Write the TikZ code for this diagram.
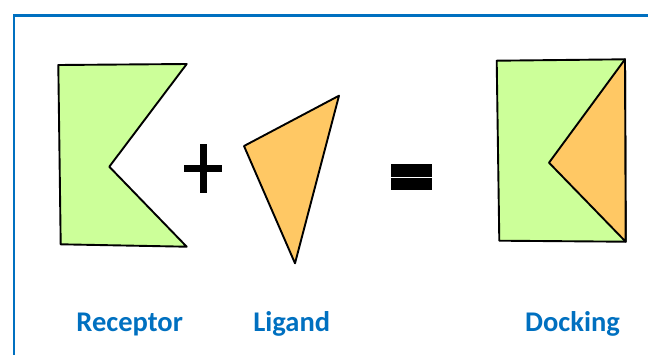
\documentclass[tikz,border=0pt]{standalone}
\usepackage{fontspec}
\setmainfont{Carlito}
\definecolor{frameblue}{RGB}{0,112,192}
\definecolor{recgreen}{RGB}{204,255,153}
\definecolor{ligorange}{RGB}{255,200,100}
\tikzset{
  piece/.style={draw=black, line width=1.9pt, line join=round},
  lbl/.style={text=frameblue, font=\fontsize{28.5}{30}\selectfont\bfseries, anchor=base, inner sep=0pt}
}
\begin{document}
\begin{tikzpicture}[x=1pt,y=-1pt]
\useasboundingbox (0,0) rectangle (648,354);
% frame
\draw[frameblue, line width=2.4pt] (14,356) -- (14,15.5) -- (650,15.5);
% receptor
\filldraw[piece, fill=recgreen] (58.3,65) -- (186.7,64) -- (109.3,166.7) -- (186.7,246.7) -- (60.7,244.3) -- cycle;
% plus
\draw[line width=7pt] (184.3,168.3) -- (221.7,168.3);
\draw[line width=7pt] (203.3,144.3) -- (203.3,192.7);
% ligand
\filldraw[piece, fill=ligorange] (244,146) -- (339,95.7) -- (295,263.3) -- cycle;
% equals
\fill (391,164.3) rectangle (432,176.7);
\fill (391,178.3) rectangle (432,190);
% docking
\filldraw[piece, fill=recgreen] (496.7,60.7) -- (625,59.3) -- (625.7,241.7) -- (499.3,240.7) -- cycle;
\filldraw[piece, fill=ligorange] (625,59.3) -- (549,162.7) -- (625.7,241.7) -- cycle;
% labels
\node[lbl] (rec) at (129.7,331.5) {Receptor};
\node[lbl] (lig) at (291.7,331.5) {Ligand};
\node[lbl] (dock) at (572.5,331.5) {Docking};
\end{tikzpicture}
\end{document}
